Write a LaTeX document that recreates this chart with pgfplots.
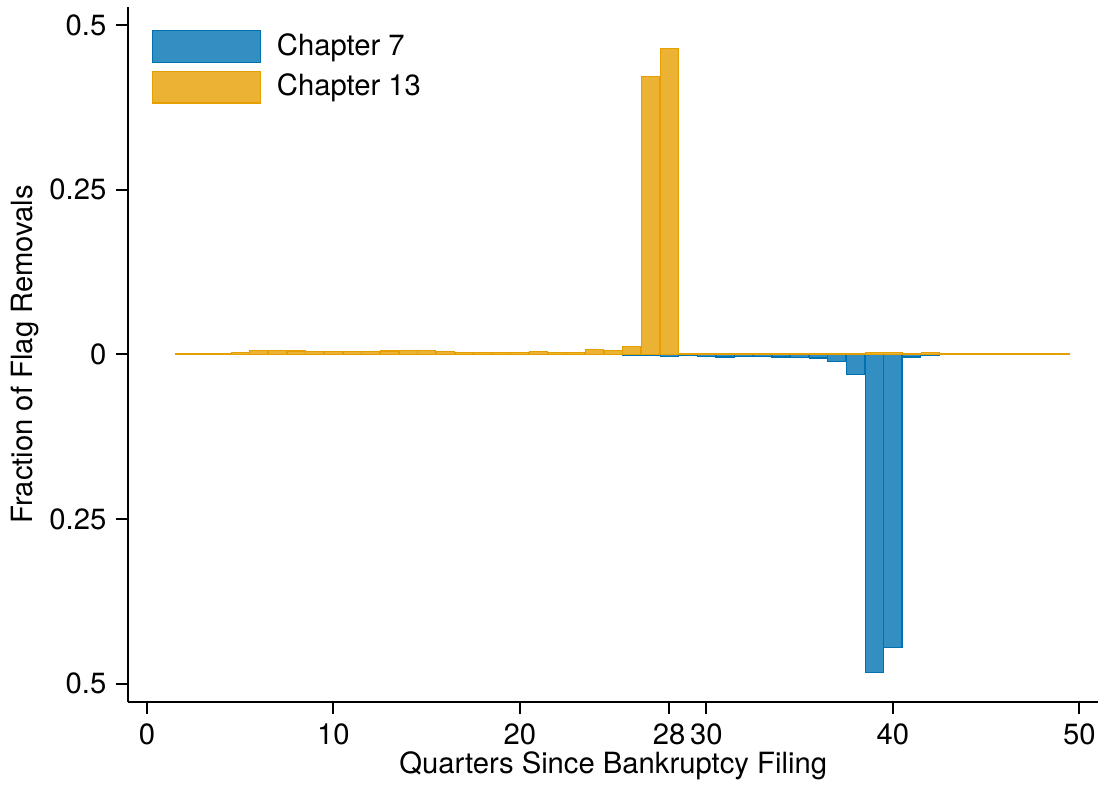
\documentclass[border=0pt]{standalone}
\usepackage{pgfplots}
\pgfplotsset{compat=1.18}
\usepackage{fontspec}
\setmainfont{TeX Gyre Heros}
\definecolor{c7}{HTML}{0072B2}
\definecolor{c13}{HTML}{E69F00}
\pgfplotstableread{
q ch7 ch13
2 -0.0003 0.0010
3 -0.0003 0.0015
4 -0.0003 0.0015
5 -0.0003 0.0030
6 -0.0003 0.0055
7 -0.0003 0.0060
8 -0.0003 0.0050
9 -0.0003 0.0045
10 -0.0003 0.0045
11 -0.0003 0.0045
12 -0.0003 0.0045
13 -0.0003 0.0050
14 -0.0003 0.0060
15 -0.0003 0.0060
16 -0.0005 0.0045
17 -0.0005 0.0030
18 -0.0005 0.0025
19 -0.0005 0.0030
20 -0.0005 0.0030
21 -0.0005 0.0040
22 -0.0005 0.0030
23 -0.0005 0.0030
24 -0.0005 0.0070
25 -0.0005 0.0060
26 -0.0020 0.0120
27 -0.0020 0.4223
28 -0.0030 0.4639
29 -0.0020 0.0015
30 -0.0030 0.0015
31 -0.0040 0.0015
32 -0.0035 0.0015
33 -0.0035 0.0015
34 -0.0040 0.0015
35 -0.0045 0.0010
36 -0.0055 0.0010
37 -0.0106 0.0010
38 -0.0300 0.0010
39 -0.4830 0.0025
40 -0.4450 0.0030
41 -0.0040 0.0015
42 -0.0010 0.0025
43 -0.0005 0.0015
44 -0.0003 0.0010
45 -0.0003 0.0010
46 -0.0003 0.0010
47 -0.0003 0.0010
48 -0.0003 0.0010
49 -0.0003 0.0005
}\datatable
\begin{document}
\begin{tikzpicture}
\begin{axis}[
  scale only axis,
  width=340pt, height=243.5pt,
  xmin=-1, xmax=51,
  ymin=-0.527, ymax=0.527,
  axis x line*=bottom, axis y line*=left,
  axis line style={line width=0.7pt},
  every tick/.style={black, line width=0.7pt},
  tick align=outside,
  major tick length=4.2pt,
  xtick={0,10,20,28,30,40,50},
  ytick={-0.5,-0.25,0,0.25,0.5},
  yticklabels={0.5,0.25,0,0.25,0.5},
  /pgf/number format/assume math mode=true,
  ticklabel style={font=\fontsize{10.25}{12}\selectfont},
  label style={font=\fontsize{10.25}{12}\selectfont},
  xlabel={Quarters Since Bankruptcy Filing},
  ylabel={Fraction of Flag Removals},
  xlabel style={at={(axis description cs:0.5,-0.0924)}, anchor=center},
  ylabel style={at={(axis description cs:-0.1065,0.5)}, anchor=center},
  legend style={at={(0,1)}, anchor=north west, xshift=8pt, yshift=-7pt,
    draw=none, fill=none, inner sep=0pt, row sep=1.1pt,
    font=\fontsize{10.25}{12}\selectfont,
    cells={anchor=west}, nodes={inner xsep=5.5pt}},
  legend cell align=left,
  clip=false,
]
\addplot[ybar, bar width=0.97, bar shift=0pt, draw=c7, fill=c7!80!white, line width=0.4pt,
  legend image code/.code={\draw[draw=c7, fill=c7!80!white, line width=0.4pt] (0pt,-5.6pt) rectangle (38pt,5.6pt);}]
  table[x=q, y=ch7] {\datatable};
\addlegendentry{Chapter 7}
\addplot[ybar, bar width=0.97, bar shift=0pt, draw=c13, fill=c13!80!white, line width=0.4pt,
  legend image code/.code={\draw[draw=c13, fill=c13!80!white, line width=0.4pt] (0pt,-5.6pt) rectangle (38pt,5.6pt);}]
  table[x=q, y=ch13] {\datatable};
\addlegendentry{Chapter 13}
\end{axis}
\path (current axis.south west) ++(-45pt,-29pt) coordinate (bl);
\path (current axis.north east) ++(1.75pt,2.5pt) coordinate (tr);
\pgfresetboundingbox
\path (bl) rectangle (tr);
\end{tikzpicture}
\end{document}
